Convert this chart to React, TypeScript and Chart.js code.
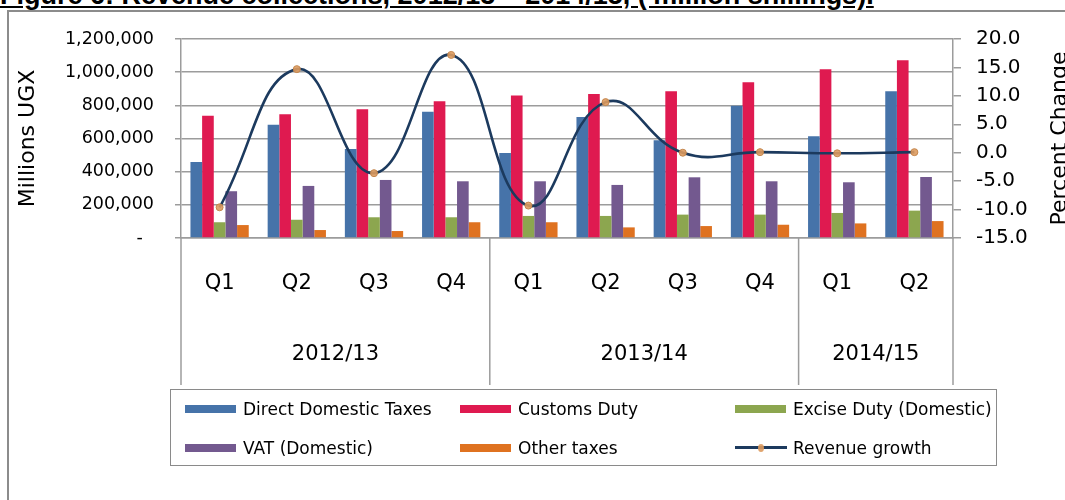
import React, { useEffect, useRef } from 'react';
import { Chart, registerables } from 'chart.js';

Chart.register(...registerables);

// ---- data ----
const quarters = ['Q1', 'Q2', 'Q3', 'Q4', 'Q1', 'Q2', 'Q3', 'Q4', 'Q1', 'Q2'];
const years = ['2012/13', '2013/14', '2014/15'];
const yearSpans = [4, 4, 2];

const directDomestic = [458000, 683000, 537000, 762000, 513000, 730000, 589000, 798000, 613000, 885000];
const customsDuty = [737000, 746000, 776000, 824000, 860000, 868000, 885000, 939000, 1017000, 1072000];
const exciseDuty = [95000, 110000, 125000, 125000, 133000, 133000, 141000, 141000, 151000, 165000];
const vatDomestic = [282000, 314000, 350000, 342000, 342000, 320000, 366000, 342000, 336000, 368000];
const otherTaxes = [78000, 48000, 42000, 95000, 95000, 64000, 72000, 80000, 88000, 102000];
const revenueGrowth = [-9.6, 14.7, -3.6, 17.2, -9.3, 8.9, 0.0, 0.1, -0.1, 0.1];

const seriesNames = [
  'Direct Domestic Taxes',
  'Customs Duty',
  'Excise Duty (Domestic)',
  'VAT (Domestic)',
  'Other taxes',
  'Revenue growth',
];
const leftTicks = [0, 200000, 400000, 600000, 800000, 1000000, 1200000];
const rightTicks = [-15, -10, -5, 0, 5, 10, 15, 20];

const COLORS = ['#4673A9', '#DF1A50', '#8CA64F', '#73598F', '#DF7220'];
const LINE_COLOR = '#1C3A5E';
const MARKER_FILL = 'rgba(221,155,95,0.9)';
const MARKER_BORDER = '#C4874E';
const GRID = '#9c9c9c';
const FONT = 'DejaVu Sans';

const groupPlugin = {
  id: 'yearGroups',
  afterDraw(chart: any) {
    const { ctx, chartArea } = chart;
    const x = chart.scales.x;
    const half = (x.getPixelForValue(1) - x.getPixelForValue(0)) / 2;
    ctx.save();
    ctx.strokeStyle = GRID;
    ctx.lineWidth = 1.5;
    ctx.fillStyle = '#000';
    ctx.font = `21px "${FONT}"`;
    ctx.textAlign = 'center';
    ctx.textBaseline = 'middle';
    const bounds: number[] = [chartArea.left];
    let idx = 0;
    yearSpans.forEach((span) => {
      idx += span;
      bounds.push(idx >= quarters.length ? chartArea.right : x.getPixelForValue(idx - 1) + half);
    });
    bounds.forEach((b) => {
      ctx.beginPath();
      ctx.moveTo(b, x.top);
      ctx.lineTo(b, x.bottom);
      ctx.stroke();
    });
    years.forEach((yr, i) => {
      ctx.fillText(yr, (bounds[i] + bounds[i + 1]) / 2, x.top + 117);
    });
    // right axis title (reads bottom-to-top)
    const y1 = chart.scales.y1;
    ctx.translate(1066, (y1.top + y1.bottom) / 2);
    ctx.rotate(-Math.PI / 2);
    ctx.font = `22px "${FONT}"`;
    ctx.textBaseline = 'alphabetic';
    ctx.fillText('Percent Change', 0, 0);
    ctx.restore();
  },
};

export default function App() {
  const ref = useRef<HTMLCanvasElement>(null);

  useEffect(() => {
    if (!ref.current) return;
    const barSets = [directDomestic, customsDuty, exciseDuty, vatDomestic, otherTaxes].map((d, i) => ({
      type: 'bar' as const,
      label: seriesNames[i],
      data: d,
      backgroundColor: COLORS[i],
      borderWidth: 0,
      yAxisID: 'y',
      order: 1,
      categoryPercentage: 0.755,
      barPercentage: 1.0,
    }));
    const chart = new Chart(ref.current, {
      type: 'bar',
      data: {
        labels: quarters,
        datasets: [
          ...barSets,
          {
            type: 'line' as const,
            label: seriesNames[5],
            data: revenueGrowth,
            yAxisID: 'y1',
            order: 0,
            borderColor: LINE_COLOR,
            borderWidth: 2.6,
            tension: 0.45,
            pointRadius: 3.5,
            pointBackgroundColor: MARKER_FILL,
            pointBorderColor: MARKER_BORDER,
            pointBorderWidth: 1,
            fill: false,
          } as any,
        ],
      },
      options: {
        responsive: false,
        animation: false,
        layout: { padding: { left: 0, right: 0, top: 39, bottom: 115 } },
        plugins: { legend: { display: false }, tooltip: { enabled: false } },
        scales: {
          x: {
            offset: true,
            grid: { display: false, drawTicks: false },
            border: { display: true, color: GRID, width: 1.5 },
            ticks: {
              color: '#000',
              font: { family: FONT, size: 21 },
              padding: 33,
              maxRotation: 0,
              autoSkip: false,
            },
            afterFit: (s: any) => {
              s.height = 147;
            },
          },
          y: {
            position: 'left',
            min: 0,
            max: 1200000,
            afterBuildTicks: (s: any) => {
              s.ticks = leftTicks.map((v) => ({ value: v }));
            },
            ticks: {
              color: '#000',
              font: { family: FONT, size: 17.5 },
              padding: 21,
              callback: (v: any) => (Number(v) === 0 ? '-  ' : Number(v).toLocaleString('en-US')),
            },
            grid: { color: GRID, lineWidth: 1.5, tickLength: 6 },
            border: { color: GRID, width: 1.5 },
            title: {
              display: true,
              text: 'Millions UGX',
              color: '#000',
              font: { family: FONT, size: 22 },
              padding: { top: 15, bottom: 0 },
            },
            afterFit: (s: any) => {
              s.width = 181;
            },
          },
          y1: {
            position: 'right',
            min: -15,
            max: 20,
            afterBuildTicks: (s: any) => {
              s.ticks = rightTicks.map((v) => ({ value: v }));
            },
            ticks: {
              color: '#000',
              font: { family: FONT, size: 20 },
              padding: 15,
              callback: (v: any) => Number(v).toFixed(1),
            },
            grid: { drawOnChartArea: false, color: GRID, lineWidth: 1.5, tickLength: 8 },
            border: { color: GRID, width: 1.5 },
            afterFit: (s: any) => {
              s.width = 112;
            },
          },
        },
      } as any,
      plugins: [groupPlugin],
    });
    return () => chart.destroy();
  }, []);

  const cols = [185, 460, 735];
  const rows = [409, 447.5];
  const legendText: React.CSSProperties = {
    position: 'absolute',
    fontFamily: FONT,
    fontSize: 17,
    lineHeight: '22px',
    color: '#000',
    whiteSpace: 'nowrap',
  };

  return (
    <div
      style={{
        position: 'absolute',
        left: 0,
        top: 0,
        width: 1065,
        height: 500,
        overflow: 'hidden',
        background: '#fff',
      }}
    >
      <div
        style={{
          position: 'absolute',
          left: 0,
          top: -17,
          fontFamily: '"Liberation Sans", Arial, sans-serif',
          fontWeight: 'bold',
          fontSize: 27,
          lineHeight: '24px',
          textDecoration: 'underline',
          whiteSpace: 'nowrap',
          color: '#000',
        }}
      >
        Figure 6: Revenue collections, 2012/13 – 2014/15, ('million shillings).
      </div>
      <div
        style={{
          position: 'absolute',
          left: 7,
          top: 10,
          width: 1200,
          height: 700,
          border: '2px solid #8c8c8c',
        }}
      />
      <canvas
        ref={ref}
        width={1065}
        height={500}
        style={{ position: 'absolute', left: 0, top: 0, width: 1065, height: 500 }}
      />
      <div
        style={{
          position: 'absolute',
          left: 170,
          top: 389,
          width: 825,
          height: 75,
          border: '1.5px solid #8a8a8a',
        }}
      />
      {seriesNames.map((name, i) => {
        const cx = cols[i % 3];
        const cy = rows[Math.floor(i / 3)];
        const isLine = i === 5;
        return (
          <React.Fragment key={name}>
            {isLine ? (
              <>
                <div
                  style={{
                    position: 'absolute',
                    left: cx,
                    top: cy - 1.3,
                    width: 52,
                    height: 2.6,
                    background: LINE_COLOR,
                  }}
                />
                <div
                  style={{
                    position: 'absolute',
                    left: cx + 23,
                    top: cy - 4,
                    width: 6,
                    height: 8,
                    borderRadius: '50%',
                    background: MARKER_FILL,
                  }}
                />
              </>
            ) : (
              <div
                style={{
                  position: 'absolute',
                  left: cx,
                  top: cy - 4,
                  width: 51,
                  height: 8,
                  background: COLORS[i],
                }}
              />
            )}
            <div style={{ ...legendText, left: cx + 58, top: cy - 11 }}>{name}</div>
          </React.Fragment>
        );
      })}
    </div>
  );
}
